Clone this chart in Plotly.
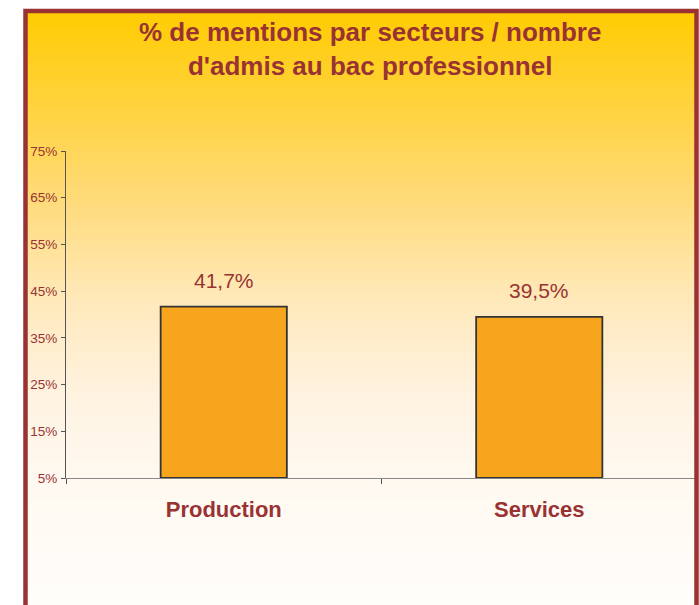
import plotly.graph_objects as go

categories = ["Production", "Services"]
values = [41.7, 39.5]
value_labels = ["41,7%", "39,5%"]
y_ticks = [5, 15, 25, 35, 45, 55, 65, 75]
y_tick_labels = ["5%", "15%", "25%", "35%", "45%", "55%", "65%", "75%"]
title_text = "% de mentions par secteurs / nombre<br>d'admis au bac professionnel"

DARK_RED = "#993333"
W, H = 699, 605
ML, MR, MT, MB = 66, 2, 151, 127
PW, PH = W - ML - MR, H - MT - MB


def px_to_paper_x(px):
    return (px - ML) / PW


def px_to_paper_y(py):
    return (H - MB - py) / PH


# background gradient stops (pixel y, rgb)
stops = [(10, (255, 204, 0)), (100, (255, 210, 58)), (200, (255, 219, 122)),
         (300, (255, 233, 187)), (400, (255, 243, 226)), (480, (255, 249, 240)),
         (605, (255, 253, 250))]


def color_at(y):
    for (y0, c0), (y1, c1) in zip(stops, stops[1:]):
        if y0 <= y <= y1:
            t = (y - y0) / (y1 - y0)
            return "rgb(%d,%d,%d)" % tuple(round(a + (b - a) * t) for a, b in zip(c0, c1))
    return "rgb(%d,%d,%d)" % stops[-1][1]


shapes = []
step = 5
y = 10
while y < 610:
    shapes.append(dict(type="rect", xref="paper", yref="paper", layer="below",
                       x0=px_to_paper_x(25.5), x1=px_to_paper_x(697),
                       y0=px_to_paper_y(y + step + 0.5), y1=px_to_paper_y(y),
                       fillcolor=color_at(y + step / 2), line=dict(width=0)))
    y += step

# frame border
shapes.append(dict(type="path", xref="paper", yref="paper", layer="above",
                   path="M %f %f L %f %f L %f %f L %f %f" % (
                       px_to_paper_x(25.5), px_to_paper_y(640),
                       px_to_paper_x(25.5), px_to_paper_y(11),
                       px_to_paper_x(696.5), px_to_paper_y(11),
                       px_to_paper_x(696.5), px_to_paper_y(640)),
                   line=dict(color=DARK_RED, width=4.5)))

fig = go.Figure()
fig.add_trace(go.Bar(
    x=categories, y=[v - 5 for v in values], base=5, width=0.4,
    marker=dict(color="#F7A51D", line=dict(color="#333333", width=1.8)),
    hoverinfo="skip", showlegend=False,
))

annotations = [dict(x=c, y=v, text=t, showarrow=False, xref="x", yref="y",
                    yanchor="middle", yshift=26,
                    font=dict(family="Liberation Sans, Arial", size=21, color=DARK_RED))
               for c, v, t in zip(categories, values, value_labels)]

annotations.append(dict(xref="paper", yref="paper", x=px_to_paper_x(370), y=px_to_paper_y(49),
                        xanchor="center", yanchor="middle", showarrow=False,
                        text="<b>" + title_text + "</b>",
                        font=dict(family="Liberation Sans, Arial", size=26, color=DARK_RED)))

fig.update_layout(
    width=W, height=H,
    margin=dict(l=ML, r=MR, t=MT, b=MB),
    paper_bgcolor="white", plot_bgcolor="rgba(0,0,0,0)",
    shapes=shapes, annotations=annotations,
    bargap=0.6,
    xaxis=dict(type="category", tickson="boundaries", ticks="outside", ticklen=5,
               tickcolor="#555555", showline=True, linecolor="#888888", linewidth=1,
               showgrid=False, ticklabelstandoff=12,
               tickfont=dict(family="Liberation Sans, Arial", size=22, color=DARK_RED, weight="bold")),
    yaxis=dict(range=[5, 75], tickvals=y_ticks, ticktext=y_tick_labels, ticks="outside",
               ticklen=4, tickcolor="#555555", showline=True, linecolor="#555555", linewidth=1,
               showgrid=False, zeroline=False, ticklabelstandoff=1,
               tickfont=dict(family="Liberation Sans, Arial", size=13.5, color=DARK_RED)),
    font=dict(family="Liberation Sans, Arial"),
)

fig.write_html("out.html", config={"displayModeBar": False},
               post_script="document.body.style.margin='0';document.body.style.padding='0';")
